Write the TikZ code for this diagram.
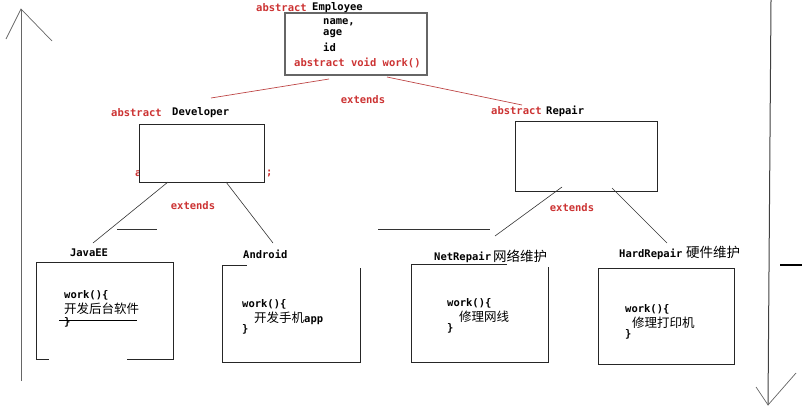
\documentclass[tikz,border=0pt]{standalone}
\usepackage{fontspec}
\usetikzlibrary{calc}
\setmonofont{DejaVu Sans Mono}
\newfontfamily\cjk{Noto Sans CJK SC}
\definecolor{kwred}{RGB}{204,51,51}
\definecolor{linered}{RGB}{190,70,70}
\begin{document}
\begin{tikzpicture}[x=1pt,y=-1pt,
  code/.style={font=\ttfamily\bfseries\fontsize{10.5}{12}\selectfont, inner sep=0pt, anchor=west},
  kw/.style={code, text=kwred},
  zh/.style={font=\cjk\fontsize{12.5}{14}\selectfont, inner sep=0pt, anchor=west},
  zhbig/.style={font=\cjk\fontsize{13.5}{15}\selectfont, inner sep=0pt, anchor=west},
  boxline/.style={draw=black!85, line width=0.9pt},
  ext/.style={draw=linered, line width=0.7pt},
  inh/.style={draw=black!80, line width=0.6pt},
  axis/.style={draw=black!60, line width=1pt}]
\useasboundingbox (0,0) rectangle (802,413);

% ---------- axes ----------
\coordinate (ltop) at (21,9);
\coordinate (lbot) at (21,381);
\coordinate (larmL) at (6,39);
\coordinate (larmR) at (52,41);
\draw[axis] (lbot) -- (ltop);
\draw[axis, line width=0.7pt] (larmL) -- (ltop) -- (larmR);
\coordinate (rtop) at (771,0);
\coordinate (rbot) at (768,405);
\coordinate (rarmL) at (756,387);
\coordinate (rarmR) at (796,373);
\draw[axis, draw=black!75] (rtop) -- (rbot);
\draw[axis, line width=0.7pt] (rarmL) -- (rbot) -- (rarmR);
\coordinate (mkA) at (780,265);
\coordinate (mkB) at (802,265);
\draw[line width=2.5pt] (mkA) -- (mkB);

% ---------- Employee ----------
\node[draw=black!60, line width=1.2pt, minimum width=142pt, minimum height=62pt, inner sep=0pt] (emp) at (356,44) {};
\node[kw] (empkw) at (256,8) {abstract};
\node[code] (empname) at (312,8) {Employee};
\node[code] (f1) at (323,22) {name,};
\node[code] (f2) at (323,34) {age};
\node[code] (f3) at (323,47) {id};
\node[kw] (f4) at (294,63) {abstract void work()};

\coordinate (empL) at (329,79);
\coordinate (devTop) at (211,98);
\coordinate (empR) at (387,77);
\coordinate (repTop) at (522,105);
\draw[ext] (empL) -- (devTop);
\draw[ext] (empR) -- (repTop);
\node[kw, anchor=center] (ext1) at (363,100) {extends};

% ---------- Developer ----------
\node[kw] (deva) at (135,174) {a};
\node[kw] (devsemi) at (266,174) {;};
\node[boxline, fill=white, minimum width=125pt, minimum height=58pt, inner sep=0pt] (dev) at (201.5,153) {};
\node[kw] (devkw) at (111,113) {abstract};
\node[code] (devname) at (172,113) {Developer};

\coordinate (devL) at (168,182);
\coordinate (javaTop) at (93,243);
\coordinate (devR) at (226,182);
\coordinate (andTop) at (273,243);
\draw[inh] (devL) -- (javaTop);
\draw[inh] (devR) -- (andTop);
\node[kw, anchor=center] (ext2) at (193,206) {extends};

\coordinate (hA) at (117,229);
\coordinate (hB) at (157,229);
\coordinate (hC) at (378,229);
\coordinate (hD) at (490,229);
\draw[inh] (hA) -- (hB);
\draw[inh] (hC) -- (hD);

% ---------- Repair ----------
\node[boxline, minimum width=142pt, minimum height=70pt, inner sep=0pt] (rep) at (586,156) {};
\node[kw] (repkw) at (491,111) {abstract};
\node[code] (repname) at (546,111) {Repair};

\coordinate (repL) at (562,187);
\coordinate (netTop) at (495,236);
\coordinate (repR) at (612,188);
\coordinate (hardTop) at (667,243);
\draw[inh] (repL) -- (netTop);
\draw[inh] (repR) -- (hardTop);
\node[kw, anchor=center] (ext3) at (572,208) {extends};

% ---------- JavaEE ----------
\node[minimum width=136pt, minimum height=96pt, inner sep=0pt] (java) at (105,311) {};
\node[code, anchor=center] (javaname) at (89,253) {JavaEE};
\draw[boxline] ($(java.south west)+(12,0)$) -- (java.south west) -- (java.north west) -- (java.north east) -- (java.south east) -- ($(java.south east)+(-46,0)$);
\node[code] (jw) at (64,295) {work()\{};
\node[zh] (jt) at (64,309) {开发后台软件};
\coordinate (jsA) at (59,320);
\coordinate (jsB) at (137,320);
\draw[inh, draw=black] (jsA) -- (jsB);
\node[code] (jc) at (64,322) {\}};

% ---------- Android ----------
\node[minimum width=137pt, minimum height=96pt, inner sep=0pt] (and) at (291.5,314) {};
\node[code] (andname) at (243,254) {Android};
\draw[boxline] ($(and.north west)+(24,0)$) -- (and.north west) -- (and.south west) -- (and.south east) -- ($(and.north east)+(0,2)$);
\node[code] (aw) at (242,304) {work()\{};
\node[code] (at) at (254,318) {{\cjk\mdseries\fontsize{12.5}{14}\selectfont 开发手机}app};
\node[code] (ac) at (242,329) {\}};

% ---------- NetRepair ----------
\node[minimum width=136pt, minimum height=97pt, inner sep=0pt] (net) at (480,313.5) {};
\node[code] (netname) at (434,257) {NetRepair};
\node[zhbig] (netzh) at (493,256) {网络维护};
\draw[boxline] ($(net.north west)+(95,0)$) -- (net.north west) -- (net.south west) -- (net.south east) -- ($(net.north east)+(0,2)$);
\node[code] (nw) at (447,303) {work()\{};
\node[zh] (nt) at (459,317) {修理网线};
\node[code] (nc) at (447,328) {\}};

% ---------- HardRepair ----------
\node[boxline, minimum width=136pt, minimum height=96pt, inner sep=0pt] (hard) at (666,316) {};
\node[code] (hardname) at (619,254) {HardRepair};
\node[zhbig] (hardzh) at (686,252) {硬件维护};
\node[code] (hw) at (625,309) {work()\{};
\node[zh] (ht) at (632,323) {修理打印机};
\node[code] (hc) at (625,334) {\}};
\end{tikzpicture}
\end{document}
